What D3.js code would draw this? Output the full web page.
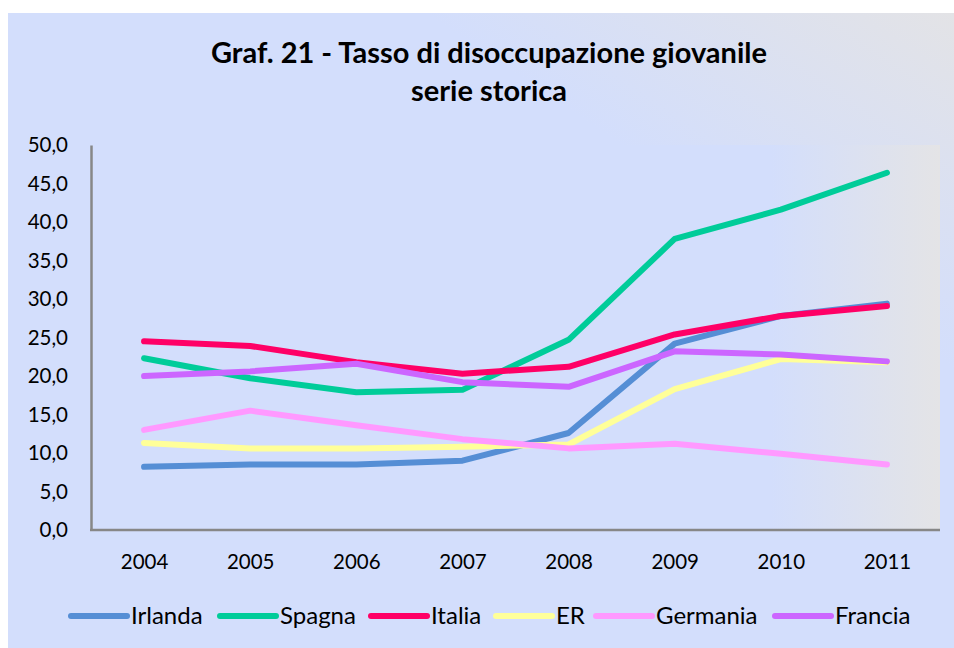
<!DOCTYPE html>
<html>
<head>
<meta charset="utf-8">
<script src="https://cdn.jsdelivr.net/npm/d3@7"></script>
<style>
  body { margin: 0; background: #ffffff; }
  text { font-family: Lato, "Noto Sans", sans-serif; fill: #000; }
</style>
</head>
<body>
<div class="chart"></div>
<script>
// Tasso di disoccupazione giovanile - serie storica
var years = ["2004", "2005", "2006", "2007", "2008", "2009", "2010", "2011"];
var yTicks = [0, 5, 10, 15, 20, 25, 30, 35, 40, 45, 50];

var irlanda  = [8.2, 8.5, 8.5, 9.0, 12.6, 24.2, 27.8, 29.4];
var spagna   = [22.3, 19.7, 17.9, 18.2, 24.7, 37.8, 41.6, 46.4];
var italia   = [24.5, 23.9, 21.8, 20.3, 21.2, 25.4, 27.8, 29.1];
var er       = [11.3, 10.6, 10.6, 10.8, 11.1, 18.3, 22.2, 21.8];
var germania = [13.0, 15.5, 13.6, 11.8, 10.6, 11.2, 9.9, 8.5];
var francia  = [20.0, 20.6, 21.6, 19.2, 18.6, 23.2, 22.8, 21.9];

var seriesNames = ["Irlanda", "Spagna", "Italia", "ER", "Germania", "Francia"];
var seriesColors = ["#558ED5", "#00CC99", "#FF0066", "#FFFF99", "#FF99FF", "#CC66FF"];

var series = [irlanda, spagna, italia, er, germania, francia].map(function (vals, i) {
  return { name: seriesNames[i], color: seriesColors[i], values: vals };
});

var svgWidth = 954;
var svgHeight = 648;

var margin = { top: 145, right: 14, bottom: 118, left: 91 };
var width = svgWidth - margin.left - margin.right;
var height = svgHeight - margin.top - margin.bottom;

var svg = d3.select(".chart")
  .append("svg")
  .attr("width", svgWidth)
  .attr("height", svgHeight);

var defs = svg.append("defs");

var panelGrad = defs.append("linearGradient")
  .attr("id", "panelGrad")
  .attr("x1", "0%").attr("y1", "100%")
  .attr("x2", "100%").attr("y2", "0%");
panelGrad.append("stop").attr("offset", "0%").attr("stop-color", "#D3DEFC");
panelGrad.append("stop").attr("offset", "72%").attr("stop-color", "#D3DEFC");
panelGrad.append("stop").attr("offset", "100%").attr("stop-color", "#E3E3E6");

var plotGrad = defs.append("linearGradient")
  .attr("id", "plotGrad")
  .attr("x1", "0%").attr("y1", "0%")
  .attr("x2", "100%").attr("y2", "0%");
plotGrad.append("stop").attr("offset", "0%").attr("stop-color", "#D3DEFC");
plotGrad.append("stop").attr("offset", "80%").attr("stop-color", "#D3DEFC");
plotGrad.append("stop").attr("offset", "100%").attr("stop-color", "#E4E4E6");

// outer panel
svg.append("rect")
  .attr("x", 8)
  .attr("y", 13)
  .attr("width", svgWidth - 8)
  .attr("height", svgHeight - 13)
  .attr("fill", "url(#panelGrad)");

// title
var title = svg.append("text")
  .attr("x", 489)
  .attr("text-anchor", "middle")
  .style("font-weight", "bold")
  .style("font-size", "29px");
title.append("tspan").attr("x", 489).attr("y", 63).text("Graf. 21 - Tasso di disoccupazione giovanile");
title.append("tspan").attr("x", 489).attr("y", 101).text("serie storica");

var chartGroup = svg.append("g")
  .attr("transform", `translate(${margin.left}, ${margin.top})`);

chartGroup.append("rect")
  .attr("width", width)
  .attr("height", height)
  .attr("fill", "url(#plotGrad)");

var xScale = d3.scalePoint()
  .domain(years)
  .range([0, width])
  .padding(0.5);

var yScale = d3.scaleLinear()
  .domain([0, 50])
  .range([height, 0]);

var fmt = function (d) { return d3.format(".1f")(d).replace(".", ","); };

var leftAxis = d3.axisLeft(yScale)
  .tickValues(yTicks)
  .tickFormat(fmt)
  .tickSize(0)
  .tickPadding(23);

var bottomAxis = d3.axisBottom(xScale)
  .tickSize(0)
  .tickPadding(24);

var yAxis = chartGroup.append("g").call(leftAxis);
var xAxis = chartGroup.append("g")
  .attr("transform", `translate(0, ${height})`)
  .call(bottomAxis);

[yAxis, xAxis].forEach(function (ax) {
  ax.select(".domain").attr("stroke", "#878787").attr("stroke-width", 2.5);
  ax.selectAll("text")
    .style("font-family", "Lato, 'Noto Sans', sans-serif")
    .style("font-size", "20.5px")
    .attr("fill", "#000");
});
// extend bottom axis across full plot width
xAxis.select(".domain").attr("d", `M-1,0H${width}`);

var line = d3.line()
  .x(function (d, i) { return xScale(years[i]); })
  .y(function (d) { return yScale(d); });

chartGroup.selectAll(".series")
  .data(series)
  .enter()
  .append("path")
  .attr("class", "series")
  .attr("d", function (d) { return line(d.values); })
  .attr("fill", "none")
  .attr("stroke", function (d) { return d.color; })
  .attr("stroke-width", 6)
  .attr("stroke-linecap", "round")
  .attr("stroke-linejoin", "round");

// legend
var legendX = [71, 220, 371, 496, 596, 775];
var legend = svg.append("g").attr("transform", "translate(0, 616)");

var items = legend.selectAll("g")
  .data(series)
  .enter()
  .append("g")
  .attr("transform", function (d, i) { return `translate(${legendX[i]}, 0)`; });

items.append("line")
  .attr("x1", 0).attr("x2", 56)
  .attr("y1", 0).attr("y2", 0)
  .attr("stroke", function (d) { return d.color; })
  .attr("stroke-width", 6)
  .attr("stroke-linecap", "round");

items.append("text")
  .attr("x", 60)
  .attr("y", 8)
  .style("font-size", "24px")
  .text(function (d) { return d.name; });
</script>
</body>
</html>
